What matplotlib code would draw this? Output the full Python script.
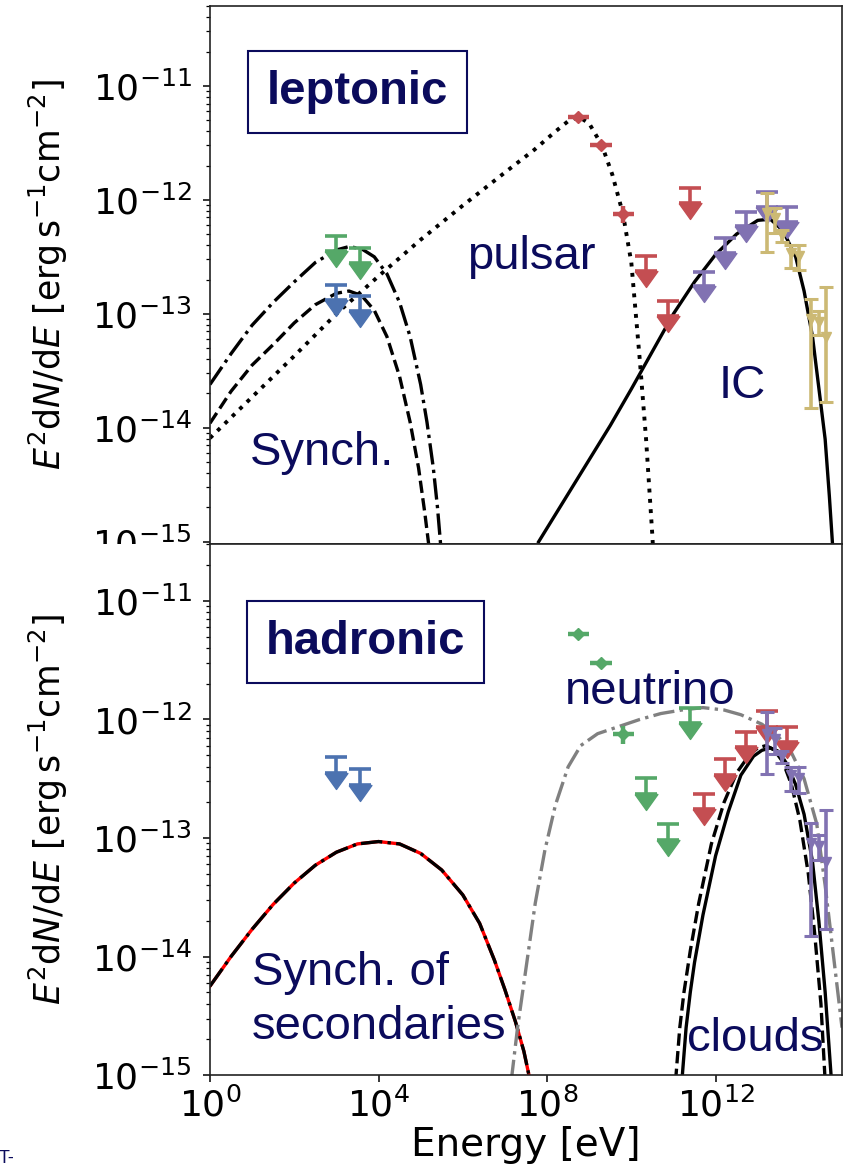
import numpy as np
import matplotlib
matplotlib.use("Agg")
import matplotlib.pyplot as plt
from matplotlib.patches import Rectangle

# ---------------- data ----------------
# energies in eV, fluxes E^2 dN/dE in erg s^-1 cm^-2

# radio / optical upper limits (green on top, blue below)
synch_ul_E = [10**3.0, 10**3.57]
synch_ul_F = [4.8e-13, 3.8e-13]

# X-ray upper limits (top panel only)
xray_ul_E = [10**3.0, 10**3.57]
xray_ul_F = [1.78e-13, 1.44e-13]

# pulsar spectral points with energy bins
psr_E = [10**8.74, 10**9.28, 10**9.81]
psr_F = [5.3e-12, 3.0e-12, 7.5e-13]
psr_Ferr = [0.4e-12, 0.25e-12, 1.3e-13]

# GeV upper limits
gev_ul_E = [10**10.34, 10**10.87, 10**11.40]
gev_ul_F = [3.2e-13, 1.3e-13, 1.26e-12]

# TeV upper limits
tev_ul_E = [10**11.72, 10**12.22, 10**12.72, 10**13.21, 10**13.70]
tev_ul_F = [2.35e-13, 4.6e-13, 7.9e-13, 1.17e-12, 8.7e-13]

# UHE points (HAWC / LHAASO like)
uhe_E = [10**13.22, 10**13.40, 10**13.58, 10**13.78, 10**13.98, 10**14.26, 10**14.45, 10**14.62]
uhe_F = [7.6e-13, 6.9e-13, 4.9e-13, 3.4e-13, 3.2e-13, 9.0e-14, 8.5e-14, 6.3e-14]
uhe_lo = [4.1e-13, 1.8e-13, 0.6e-13, 0.9e-13, 0.8e-13, 7.5e-14, 2.0e-14, 4.6e-14]
uhe_hi = [3.9e-13, 1.6e-13, 0.5e-13, 0.6e-13, 0.8e-13, 4.5e-14, 2.0e-14, 1.1e-13]

# model curves, (log10 E, log10 F)
lep_synch1_logE = [0, 0.5, 1.0, 1.5, 2.0, 2.5, 3.0, 3.3, 3.6, 3.9, 4.2, 4.5, 4.75, 5.0, 5.15, 5.3, 5.4, 5.48]
lep_synch1_logF = [-13.62, -13.35, -13.1, -12.9, -12.72, -12.55, -12.44, -12.41, -12.43, -12.5,
                   -12.65, -12.9, -13.2, -13.62, -13.95, -14.35, -14.7, -15.05]
lep_synch2_logE = [0, 0.5, 1.0, 1.5, 2.0, 2.5, 3.0, 3.3, 3.6, 3.9, 4.2, 4.5, 4.75, 4.95, 5.1, 5.2]
lep_synch2_logF = [-13.96, -13.68, -13.45, -13.27, -13.08, -12.92, -12.82, -12.80, -12.84, -12.97,
                   -13.2, -13.55, -13.95, -14.35, -14.75, -15.05]
pulsar_logE = [0, 1, 2, 3, 4, 5, 6, 7, 7.7, 8.2, 8.5, 8.75, 9.0, 9.3, 9.55, 9.8, 10.0, 10.2,
               10.35, 10.5, 10.55]
pulsar_logF = [-14.09, -13.73, -13.37, -13.0, -12.67, -12.35, -12.05, -11.76, -11.56, -11.40,
               -11.31, -11.27, -11.33, -11.52, -11.78, -12.12, -12.55, -13.4, -14.1, -14.95, -15.3]
ic_logE = [7.8, 8.5, 9.0, 9.5, 10.0, 10.5, 11.0, 11.5, 12.0, 12.5, 13.0, 13.3, 13.6, 13.9, 14.1,
           14.3, 14.45, 14.6, 14.7, 14.78]
ic_logF = [-15.0, -14.58, -14.28, -13.98, -13.66, -13.33, -13.0, -12.72, -12.48, -12.30, -12.18,
           -12.17, -12.27, -12.5, -12.8, -13.2, -13.65, -14.1, -14.6, -15.05]

sec_logE = [0, 0.5, 1.0, 1.5, 2.0, 2.5, 3.0, 3.5, 4.0, 4.5, 5.0, 5.5, 6.0, 6.4, 6.75, 7.0, 7.25,
            7.45, 7.6]
sec_logF = [-14.25, -14.0, -13.77, -13.56, -13.38, -13.23, -13.12, -13.05, -13.03, -13.05, -13.13,
            -13.27, -13.48, -13.72, -14.03, -14.28, -14.55, -14.8, -15.05]
nu_logE = [7.15, 7.3, 7.5, 7.72, 7.95, 8.2, 8.5, 8.8, 9.2, 9.7, 10.2, 10.7, 11.2, 11.7, 12.2, 12.6,
           13.1, 13.5, 13.8, 14.1, 14.4, 14.6, 14.8, 15.0]
nu_logF = [-15.05, -14.6, -14.1, -13.55, -13.1, -12.72, -12.4, -12.22, -12.12, -12.06, -12.0,
           -11.95, -11.92, -11.9, -11.92, -11.96, -12.04, -12.15, -12.28, -12.5, -12.88, -13.4,
           -14.0, -14.6]
cloud1_logE = [11.2, 11.3, 11.4, 11.5, 11.7, 12.0, 12.3, 12.6, 12.9, 13.1, 13.3, 13.5, 13.7, 13.9,
               14.1, 14.3, 14.45, 14.6, 14.7, 14.75]
cloud1_logF = [-15.05, -14.6, -14.3, -14.05, -13.65, -13.15, -12.78, -12.47, -12.31, -12.26, -12.24,
               -12.27, -12.38, -12.55, -12.8, -13.2, -13.7, -14.3, -14.8, -15.05]
cloud2_logE = [11.05, 11.15, 11.25, 11.4, 11.6, 11.9, 12.2, 12.5, 12.8, 13.0, 13.2, 13.4, 13.6,
               13.8, 14.0, 14.2, 14.35, 14.5, 14.6]
cloud2_logF = [-15.05, -14.6, -14.3, -13.95, -13.55, -13.05, -12.7, -12.45, -12.3, -12.24, -12.22,
               -12.26, -12.36, -12.55, -12.85, -13.3, -13.8, -14.4, -15.05]

# ---------------- style ----------------
BLUE, GREEN, RED, PURPLE, SAND = "#4C72B0", "#55A868", "#C44E52", "#8172B2", "#CCB974"
NAVY = "#0b0b5c"
UL_MARK = [(-1, 0), (1, 0), (0, -1.4), (-1, 0)]

plt.rcParams["font.family"] = ["DejaVu Sans"]
plt.rcParams["mathtext.fontset"] = "dejavusans"


def upper_limits(ax, E, F, color):
    E = np.asarray(E)
    F = np.asarray(F)
    low = F * 10 ** -0.13
    ax.errorbar(E, F, yerr=[F - low, np.zeros_like(F)], fmt="none", ecolor=color,
                elinewidth=2.6, capsize=8, capthick=2.6, zorder=3)
    ax.plot(E, low, ls="none", marker=UL_MARK, ms=23, color=color, zorder=3)


def bin_points(ax, color):
    E = np.asarray(psr_E)
    ax.errorbar(E, psr_F, xerr=[E * (1 - 10 ** -0.25), E * (10 ** 0.25 - 1)], yerr=psr_Ferr,
                fmt="D", ms=6, color=color, elinewidth=3.2, capsize=0, zorder=3)


def uhe_points(ax, color):
    ax.errorbar(uhe_E, uhe_F, yerr=[uhe_lo, uhe_hi], fmt="v", ms=7, color=color,
                elinewidth=2.6, capsize=5, capthick=2.2, zorder=3)


def curve(ax, logE, logF, **kw):
    ax.plot(10 ** np.asarray(logE), 10 ** np.asarray(logF), **kw)


def style_axes(ax):
    ax.set_xscale("log")
    ax.set_yscale("log")
    ax.set_xlim(1e0, 1e15)
    ax.set_xticks([1e0, 1e4, 1e8, 1e12])
    ax.set_yticks([1e-15, 1e-14, 1e-13, 1e-12, 1e-11])
    ax.tick_params(which="major", direction="out", length=5, width=1.1, labelsize=26,
                   top=False, right=False)
    ax.tick_params(axis="y", which="major", pad=8)
    ax.tick_params(which="minor", direction="out", length=3, width=0.9, top=False, right=False)
    ax.xaxis.set_minor_locator(matplotlib.ticker.NullLocator())
    for s in ax.spines.values():
        s.set_color("#222222")
        s.set_linewidth(1.2)
    ax.set_ylabel(r"$E^2\mathrm{d}N/\mathrm{d}E$ [erg$\,$s$^{-1}$cm$^{-2}$]", fontsize=25)
    ax.yaxis.set_label_coords(-0.2215, 0.5)


fig = plt.figure(figsize=(8.57, 11.66), dpi=100)
ax1 = fig.add_axes([0.2450, 0.5334, 0.7375, 0.4614], zorder=0)
ax2 = fig.add_axes([0.2450, 0.0780, 0.7375, 0.4554], zorder=2)

# ================= TOP: leptonic =================
curve(ax1, lep_synch1_logE, lep_synch1_logF, color="k", ls="-.", lw=2.4)
curve(ax1, lep_synch2_logE, lep_synch2_logF, color="k", ls="--", lw=2.4)
curve(ax1, pulsar_logE, pulsar_logF, color="k", ls=":", lw=2.8)
curve(ax1, ic_logE, ic_logF, color="k", ls="-", lw=2.4)
upper_limits(ax1, synch_ul_E, synch_ul_F, GREEN)
upper_limits(ax1, xray_ul_E, xray_ul_F, BLUE)
bin_points(ax1, RED)
upper_limits(ax1, gev_ul_E, gev_ul_F, RED)
upper_limits(ax1, tev_ul_E, tev_ul_F, PURPLE)
uhe_points(ax1, SAND)
style_axes(ax1)
ax1.set_ylim(10 ** -15.02, 10 ** -10.30)
ax1.tick_params(axis="x", labelbottom=False, length=0, which="both")

ax1.text(10 ** 1.35, 10 ** -11.16, "leptonic", fontsize=34, fontweight="bold",
         family="Liberation Sans", color=NAVY, va="baseline",
         bbox=dict(boxstyle="square,pad=0.4", fc="white", ec=NAVY, lw=1.5))
ax1.text(10 ** 6.10, 10 ** -12.61, "pulsar", fontsize=34, family="Liberation Sans",
         color=NAVY, va="baseline")
ax1.text(10 ** 0.95, 10 ** -14.33, "Synch.", fontsize=34, family="Liberation Sans",
         color=NAVY, va="baseline")
ax1.text(10 ** 12.08, 10 ** -13.74, "IC", fontsize=34, family="Liberation Sans",
         color=NAVY, va="baseline")

# ================= BOTTOM: hadronic =================
curve(ax2, sec_logE, sec_logF, color="red", ls="-", lw=2.4)
curve(ax2, sec_logE, sec_logF, color="k", ls="-.", lw=2.4)
curve(ax2, nu_logE, nu_logF, color="grey", ls="-.", lw=2.4)
curve(ax2, cloud1_logE, cloud1_logF, color="k", ls="-", lw=2.4)
curve(ax2, cloud2_logE, cloud2_logF, color="k", ls="--", lw=2.4)
upper_limits(ax2, synch_ul_E, synch_ul_F, BLUE)
bin_points(ax2, GREEN)
upper_limits(ax2, gev_ul_E, gev_ul_F, GREEN)
upper_limits(ax2, tev_ul_E, tev_ul_F, RED)
uhe_points(ax2, PURPLE)
style_axes(ax2)
ax2.set_ylim(1e-15, 10 ** -10.52)
ax2.set_xlabel("Energy [eV]", fontsize=28, labelpad=2)

ax2.text(10 ** 1.33, 10 ** -11.45, "hadronic", fontsize=34, fontweight="bold",
         family="Liberation Sans", color=NAVY, va="baseline",
         bbox=dict(boxstyle="square,pad=0.4", fc="white", ec=NAVY, lw=1.5))
ax2.text(10 ** 8.43, 10 ** -11.87, "neutrino", fontsize=34, family="Liberation Sans",
         color=NAVY, va="baseline")
ax2.text(10 ** 1.0, 10 ** -14.24, "Synch. of", fontsize=34, family="Liberation Sans",
         color=NAVY, va="baseline")
ax2.text(10 ** 1.0, 10 ** -14.70, "secondaries", fontsize=34, family="Liberation Sans",
         color=NAVY, va="baseline")
ax2.text(10 ** 11.32, 10 ** -14.80, "clouds", fontsize=34, family="Liberation Sans",
         color=NAVY, va="baseline")

# the lower panel was pasted over the upper one: hide the lower half of its last label
fig.add_artist(Rectangle((0, 0.5334 - 0.03), 0.238, 0.03, transform=fig.transFigure,
                         fc="white", ec="none", zorder=1))
fig.text(-0.002, 0.003, "T-", fontsize=13, color=NAVY, family="Liberation Sans")

fig.savefig("out.png", dpi=100)
